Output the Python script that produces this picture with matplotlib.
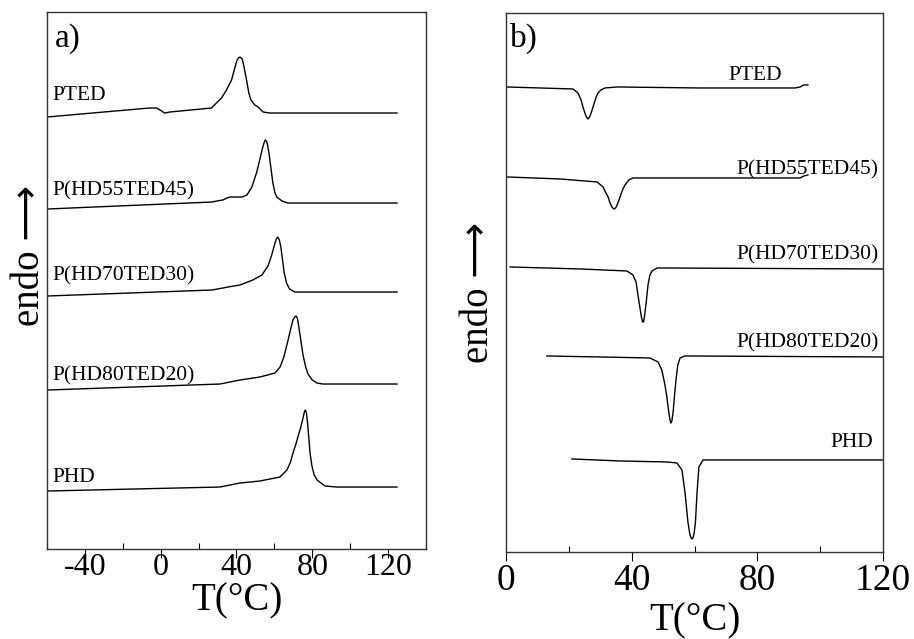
import numpy as np
import matplotlib
matplotlib.use("Agg")
import matplotlib.pyplot as plt
from matplotlib.ticker import MultipleLocator

plt.rcParams['font.family'] = ['Liberation Serif', 'DejaVu Serif']
plt.rcParams['axes.unicode_minus'] = False

# a) calentamiento: T (°C) y flujo de calor desplazado (u.a.)
heat_labels = ["PTED", "P(HD55TED45)", "P(HD70TED30)", "P(HD80TED20)", "PHD"]

heat_T_pted = [-60, -30.1, -5.8, -2.1, 0.5, 2.1, 4.8, 26.8, 29.4, 32.1, 34.7, 37.4, 39.1,
               40.3, 41.0, 41.8, 42.5, 43.0, 44.0, 45.3, 46.5, 47.6, 49.7, 51.4, 54.1,
               57.6, 124.7]
heat_y_pted = [432, 437, 441, 441, 438, 436, 437, 441, 446, 451, 459, 469, 481,
               489, 491, 492, 491, 490, 482, 469, 456, 449, 444, 442, 437,
               436, 436]

heat_T_55 = [-60, 27.0, 29.6, 32.8, 34.9, 36.5, 38.1, 42.8, 45.5, 48.1, 50.7, 52.5,
             53.6, 54.5, 55.2, 55.8, 56.4, 57.2, 58.1, 59.2, 60.3, 61.3, 64.0, 67.1, 124.7]
heat_y_55 = [340, 347, 348, 349, 351, 352, 352, 352, 354, 362, 377, 391,
             400, 406, 409, 408, 404, 395, 382, 366, 356, 352, 348, 346, 346]

heat_T_70 = [-60, 27.0, 32.8, 35.4, 41.8, 48.6, 53.4, 56.6, 58.6, 60.0, 61.0, 61.8, 62.6,
             63.4, 64.3, 65.2, 66.4, 68.0, 70.8, 75.1, 124.7]
heat_y_70 = [253, 259, 261, 262, 264, 269, 274, 283, 294, 304, 310, 312, 309,
             302, 289, 276, 266, 260, 257, 257, 257]

heat_T_80 = [-60, 31.2, 41.8, 52.3, 60.3, 63.0, 65.0, 67.1, 68.7, 69.8, 70.7, 71.4, 72.1,
             72.9, 74.0, 75.1, 76.5, 77.7, 80.0, 82.5, 85.6, 124.7]
heat_y_80 = [159, 165, 169, 172, 176, 182, 192, 208, 221, 229, 232, 233, 231,
             222, 208, 194, 182, 175, 169, 166, 165, 165]

heat_T_phd = [-60, 31.2, 41.8, 52.3, 62.9, 66.6, 68.5, 69.8, 71.2, 72.4, 73.8, 75.1,
              75.8, 76.3, 76.9, 77.5, 78.2, 78.8, 79.8, 81.0, 82.5, 86.7, 93.0, 124.7]
heat_y_phd = [58, 62, 66, 68, 72, 79, 87, 96, 104, 112, 121, 131,
              137, 139, 136, 126, 110, 96, 83, 74, 69, 63, 62, 62]

# b) enfriamiento
cool_T_pted = [0.3, 10.8, 21.3, 22.9, 23.9, 24.5, 25.1, 25.6, 26.1, 26.6, 27.1, 27.7,
               28.6, 29.3, 30.2, 31.5, 35.3, 61.7, 92.0, 93.6, 94.8, 96.1]
cool_y_pted = [465, 464, 463, 459, 452, 445, 439, 435, 433, 435, 439, 445,
               454, 459, 462, 464, 465, 464, 464, 465, 467, 467]

cool_T_55 = [0.3, 17.2, 29.0, 30.9, 31.8, 32.5, 33.1, 33.7, 34.3, 34.9, 35.5, 36.3,
             37.2, 37.9, 39.1, 40.4, 61.7, 93.6, 94.8, 96.1]
cool_y_55 = [375, 373, 370, 365, 359, 355, 349, 345, 343, 344, 348, 355,
             363, 367, 372, 374, 374, 374, 376, 377]

cool_T_70 = [1.3, 23.6, 38.5, 40.4, 41.4, 42.0, 42.6, 43.1, 43.5, 43.8, 44.1, 44.6,
             45.2, 45.8, 46.5, 48.1, 120]
cool_y_70 = [285, 283, 281, 277, 270, 257, 245, 235, 230, 230, 236, 249,
             267, 277, 281, 284, 283]

cool_T_80 = [13.0, 29.9, 45.8, 48.4, 49.6, 50.6, 51.2, 51.8, 52.2, 52.5, 52.8, 53.2,
             53.6, 54.1, 54.7, 55.4, 56.9, 120]
cool_y_80 = [196, 195, 194, 190, 182, 167, 155, 140, 132, 129, 131, 140,
             155, 172, 187, 194, 196, 195]

cool_T_phd = [21.0, 36.3, 51.2, 54.4, 56.0, 57.0, 57.9, 58.5, 58.9, 59.2, 59.5, 59.9,
              60.3, 60.8, 61.4, 62.7, 68.1, 120]
cool_y_phd = [93, 91, 90, 89, 82, 59, 30, 18, 14, 13, 14, 19,
              30, 59, 85, 92, 92, 92]

# posiciones de las etiquetas (T, y)
heat_lab_T = [-57, -57, -57, -57, -57]
heat_lab_y = [449, 354, 269, 169, 67]
cool_lab_T = [87.8, 118.7, 118.7, 118.7, 116.8]
cool_lab_y = [472, 377, 292, 204, 105]

heat_T = [heat_T_pted, heat_T_55, heat_T_70, heat_T_80, heat_T_phd]
heat_y = [heat_y_pted, heat_y_55, heat_y_70, heat_y_80, heat_y_phd]
cool_T = [cool_T_pted, cool_T_55, cool_T_70, cool_T_80, cool_T_phd]
cool_y = [cool_y_pted, cool_y_55, cool_y_70, cool_y_80, cool_y_phd]

fig = plt.figure(figsize=(9.14, 6.39), dpi=100)
ax1 = fig.add_axes([0.0514, 0.1408, 0.4147, 0.8404])
ax2 = fig.add_axes([0.5536, 0.1362, 0.4125, 0.8435])

for T, y in zip(heat_T, heat_y):
    ax1.plot(T, y, color='black', lw=1.0)
for T, y in zip(cool_T, cool_y):
    ax2.plot(T, y, color='black', lw=1.0)

for lab, T, y in zip(heat_labels, heat_lab_T, heat_lab_y):
    ax1.text(T, y, lab, fontsize=15.5, ha='left', va='baseline')
for lab, T, y in zip(heat_labels, cool_lab_T, cool_lab_y):
    ax2.text(T, y, lab, fontsize=15.5, ha='right', va='baseline')

ax1.set_xlim(-60, 140)
ax1.set_ylim(0, 537)
ax2.set_xlim(0, 120)
ax2.set_ylim(0, 539)

ax1.xaxis.set_major_locator(MultipleLocator(40))
ax1.xaxis.set_minor_locator(MultipleLocator(20))
ax1.set_xticks([-40, 0, 40, 80, 120])
ax2.xaxis.set_major_locator(MultipleLocator(40))
ax2.xaxis.set_minor_locator(MultipleLocator(20))

for ax, fs, pad in ((ax1, 23, -4), (ax2, 27, 2)):
    ax.set_yticks([])
    ax.tick_params(axis='x', which='major', direction='out', length=6.5, width=0.8,
                   labelsize=fs, pad=pad)
    ax.tick_params(axis='x', which='minor', direction='in', length=4, width=0.8)
    for s in ax.spines.values():
        s.set_linewidth(1.0)
        s.set_color('#333333')
    ax.set_xlabel('T(°C)', fontsize=28, va='top')

ax1.xaxis.set_label_coords(0.5, -0.063)
ax2.xaxis.set_label_coords(0.5, -0.094)

ax1.text(0.021, 0.935, 'a)', transform=ax1.transAxes, fontsize=24, va='baseline')
ax2.text(0.011, 0.937, 'b)', transform=ax2.transAxes, fontsize=24, va='baseline')

endo_font = ['Liberation Serif', 'DejaVu Sans']
fig.text(30 / 914, 1 - 255 / 639, 'endo ⟶', rotation=90, fontsize=28,
         family=endo_font, ha='center', va='center')
fig.text(478 / 914, 1 - 292 / 639, 'endo ⟶', rotation=90, fontsize=28,
         family=endo_font, ha='center', va='center')

fig.savefig('out.png', dpi=100)
